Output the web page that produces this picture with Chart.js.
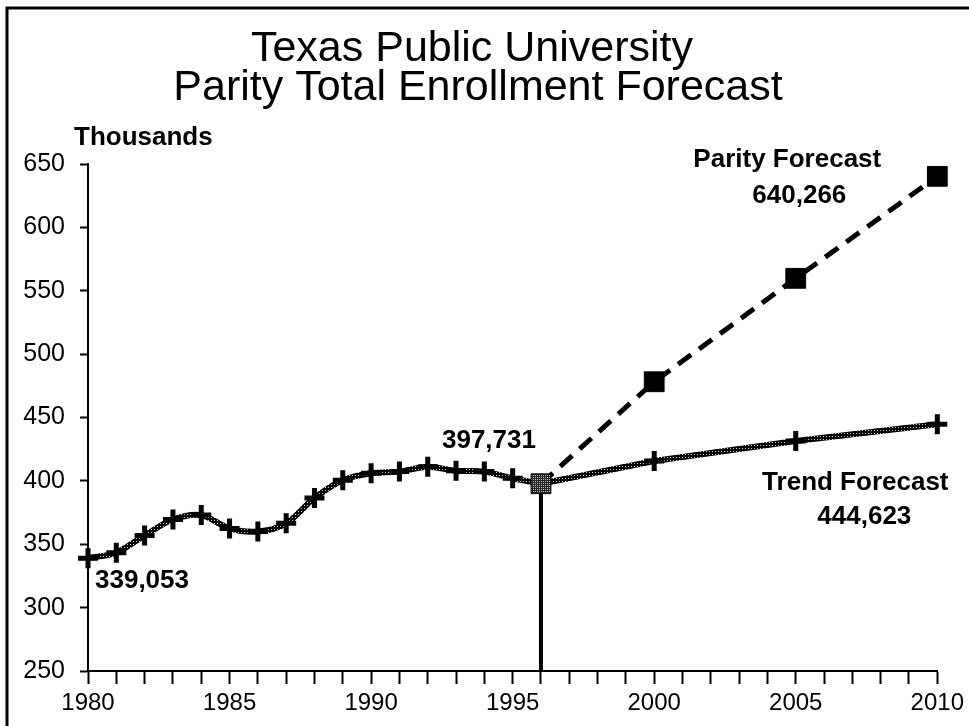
<!DOCTYPE html>
<html>
<head>
<meta charset="utf-8">
<script src="https://cdn.jsdelivr.net/npm/chart.js@4.4.0/dist/chart.umd.min.js"></script>
<style>
html, body { margin: 0; padding: 0; background: #fff; }
</style>
</head>
<body>
<canvas id="enrollChart" width="969" height="726"></canvas>
<script>
var titleLines = ["Texas Public University", "Parity Total Enrollment Forecast"];
var unitLabel = "Thousands";

// actual enrollment, thousands
var histYears = [1980, 1981, 1982, 1983, 1984, 1985, 1986, 1987, 1988, 1989, 1990, 1991, 1992, 1993, 1994, 1995, 1996];
var histValues = [339.053, 343.3, 357.0, 369.5, 373.0, 362.5, 360.0, 366.5, 386.5, 400.5, 406.0, 407.3, 411.2, 408.0, 407.3, 402.0, 397.731];

// forecasts
var trendYears = [1996, 2000, 2005, 2010];
var trendValues = [397.731, 415.7, 431.5, 444.623];
var parityYears = [1996, 2000, 2005, 2010];
var parityValues = [397.731, 478.2, 559.8, 640.266];

// drop line under 1996
var dropYears = [1996, 1996];
var dropValues = [250, 397.731];

var yMin = 250, yMax = 650, yStep = 50;
var xMin = 1980, xMax = 2010;

var noteTexts = ["339,053", "397,731", "Parity Forecast", "640,266", "Trend Forecast", "444,623"];

var FONT = '"Liberation Sans", Arial, Helvetica, sans-serif';

function toPoints(xs, ys) {
    var out = [];
    for (var i = 0; i < xs.length; ++i) {
        out.push({ x: xs[i], y: ys[i] });
    }
    return out;
}

/* small speckle pattern, dark with light dots */
function speckle(dark, light, size) {
    var c = document.createElement("canvas");
    c.width = size; c.height = size;
    var g = c.getContext("2d");
    g.fillStyle = dark;
    g.fillRect(0, 0, size, size);
    g.fillStyle = light;
    g.fillRect(1, 1, 1, 1);
    return g.createPattern(c, "repeat");
}

var lineSpeckle = speckle("#000", "#c8c8c8", 3);
var boxSpeckle = speckle("#222", "#c0c0c0", 2);

var decorPlugin = {
    id: "decor",
    beforeDraw: function (chart) {
        var ctx = chart.ctx;
        ctx.save();
        ctx.fillStyle = "#fff";
        ctx.fillRect(0, 0, chart.width, chart.height);
        ctx.restore();
    },
    afterDraw: function (chart) {
        var ctx = chart.ctx;
        var xs = chart.scales.x, ys = chart.scales.y;
        ctx.save();

        /* frame */
        ctx.strokeStyle = "#000";
        ctx.lineWidth = 3;
        ctx.beginPath();
        ctx.moveTo(7, chart.height + 5);
        ctx.lineTo(7, 8);
        ctx.lineTo(chart.width, 8);
        ctx.stroke();

        /* title */
        ctx.fillStyle = "#000";
        ctx.textAlign = "center";
        ctx.textBaseline = "alphabetic";
        ctx.font = "43px " + FONT;
        ctx.fillText(titleLines[0], 472, 61);
        ctx.fillText(titleLines[1], 478, 100);

        ctx.font = "bold 26px " + FONT;
        ctx.textBaseline = "middle";
        ctx.textAlign = "left";
        ctx.fillText(unitLabel, 74, 138);

        /* value notes anchored on the data */
        var last = histYears.length - 1;
        var p1980x = xs.getPixelForValue(histYears[0]), p1980y = ys.getPixelForValue(histValues[0]);
        var p96x = xs.getPixelForValue(histYears[last]), p96y = ys.getPixelForValue(histValues[last]);
        var pPx = xs.getPixelForValue(parityYears[3]), pPy = ys.getPixelForValue(parityValues[3]);
        var pTx = xs.getPixelForValue(trendYears[3]), pTy = ys.getPixelForValue(trendValues[3]);

        ctx.fillText(noteTexts[0], p1980x + 7, p1980y + 23);
        ctx.textAlign = "center";
        ctx.fillText(noteTexts[1], p96x - 52, p96y - 43);
        ctx.fillText(noteTexts[2], pPx - 150, pPy - 17);
        ctx.fillText(noteTexts[3], pPx - 138, pPy + 19);
        ctx.fillText(noteTexts[4], pTx - 82, pTy + 59);
        ctx.fillText(noteTexts[5], pTx - 73, pTy + 93);

        ctx.restore();
    }
};

var ctx = document.getElementById("enrollChart");
var enrollChart = new Chart(ctx, {
    type: "line",
    data: {
        datasets: [{
            label: "Trend Forecast",
            data: toPoints(trendYears, trendValues),
            borderColor: lineSpeckle,
            borderWidth: 6,
            tension: 0,
            order: 0,
            clip: false,
            pointStyle: function (c) { return c.dataIndex === 0 ? "rect" : "cross"; },
            pointRadius: function (c) { return c.dataIndex === 0 ? 14 : 10; },
            pointBorderWidth: function (c) { return c.dataIndex === 0 ? 1 : 5; },
            pointBorderColor: "#000",
            pointBackgroundColor: boxSpeckle
        }, {
            label: "Actual",
            data: toPoints(histYears, histValues),
            borderColor: lineSpeckle,
            borderWidth: 6,
            tension: 0.3,
            order: 1,
            clip: false,
            pointStyle: "cross",
            pointRadius: 10,
            pointBorderWidth: 5,
            pointBorderColor: "#000"
        }, {
            label: "Parity Forecast",
            data: toPoints(parityYears, parityValues),
            borderColor: "#000",
            borderWidth: 5,
            borderDash: [16, 10],
            tension: 0,
            order: 2,
            clip: false,
            pointStyle: "rect",
            pointRadius: function (c) { return c.dataIndex === 0 ? 0 : 14; },
            pointBorderWidth: 1,
            pointBorderColor: "#000",
            pointBackgroundColor: "#000"
        }, {
            label: "1996",
            data: toPoints(dropYears, dropValues),
            borderColor: "#000",
            borderWidth: 4,
            pointRadius: 0,
            order: 3
        }]
    },
    options: {
        responsive: false,
        animation: false,
        layout: {
            padding: { top: 164, right: 31, bottom: 0, left: 0 }
        },
        plugins: {
            legend: { display: false },
            title: { display: false },
            tooltip: { enabled: false }
        },
        scales: {
            x: {
                type: "linear",
                min: xMin,
                max: xMax,
                afterFit: function (s) { s.height = 55; },
                ticks: {
                    stepSize: 1,
                    autoSkip: false,
                    maxRotation: 0,
                    padding: 5,
                    color: "#000",
                    font: { family: FONT, size: 24 },
                    callback: function (v) { return v % 5 === 0 ? String(v) : ""; }
                },
                grid: {
                    drawOnChartArea: false,
                    drawTicks: true,
                    tickLength: 13,
                    tickWidth: 2,
                    tickColor: "#000",
                    color: "#000"
                },
                border: { display: true, color: "#000", width: 2 }
            },
            y: {
                min: yMin,
                max: yMax,
                afterFit: function (s) { s.width = 88; },
                ticks: {
                    stepSize: yStep,
                    padding: 15,
                    color: "#000",
                    font: { family: FONT, size: 25 }
                },
                grid: {
                    drawOnChartArea: false,
                    drawTicks: true,
                    tickLength: 8,
                    tickWidth: 2,
                    tickColor: "#000",
                    color: "#000"
                },
                border: { display: true, color: "#000", width: 2 }
            }
        }
    },
    plugins: [decorPlugin]
});
</script>
</body>
</html>
